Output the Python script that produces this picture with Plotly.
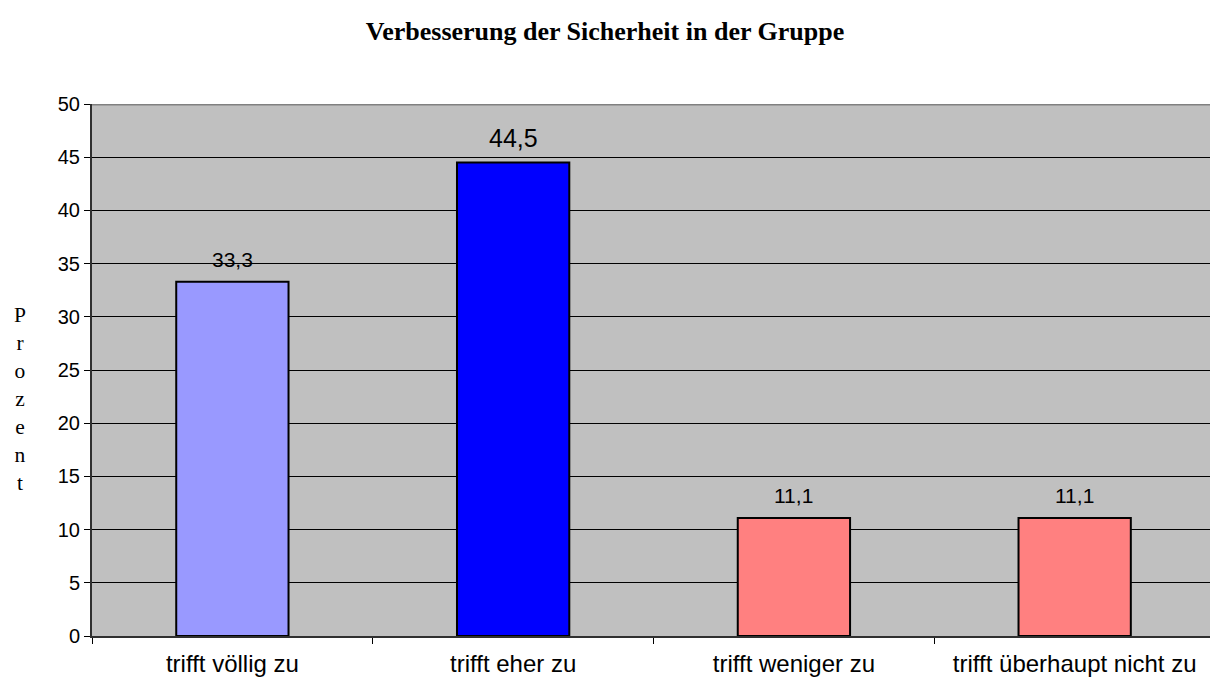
import plotly.graph_objects as go

categories = ["trifft völlig zu", "trifft eher zu", "trifft weniger zu", "trifft überhaupt nicht zu"]
values = [33.3, 44.5, 11.1, 11.1]
value_labels = ["33,3", "44,5", "11,1", "11,1"]
bar_colors = ["#9999FF", "#0000FF", "#FF8080", "#FF8080"]
label_sizes = [21, 25, 21, 21]
y_ticks = [0, 5, 10, 15, 20, 25, 30, 35, 40, 45, 50]

fig = go.Figure()
fig.add_trace(go.Bar(
    x=categories,
    y=values,
    width=0.4,
    marker=dict(color=bar_colors, line=dict(color="#000000", width=2)),
    hoverinfo="skip",
))

for cat, val, lab, size in zip(categories, values, value_labels, label_sizes):
    fig.add_annotation(
        x=cat, y=val, text=lab, showarrow=False,
        yanchor="bottom", yshift=9,
        font=dict(family="Liberation Sans, Arial, sans-serif", size=size, color="#000000"),
    )

# vertical stacked axis title
fig.add_annotation(
    xref="paper", yref="paper", x=-0.0644, y=0.446, xanchor="center", yanchor="middle",
    text="<br>".join(list("Prozent")), showarrow=False,
    font=dict(family="Liberation Serif, Times New Roman, serif", size=21.5, color="#000000"),
)

# top border of the plot area
fig.add_shape(type="line", xref="paper", yref="y", x0=0, x1=1, y0=50, y1=50,
              line=dict(color="#808080", width=3))

fig.update_layout(
    width=1210, height=682,
    margin=dict(l=92, r=0, t=104, b=46),
    paper_bgcolor="#FFFFFF",
    plot_bgcolor="#C0C0C0",
    showlegend=False,
    title=dict(
        text="<b>Verbesserung der Sicherheit in der Gruppe</b>",
        x=0.5, xanchor="center", y=0.955, yanchor="middle",
        font=dict(family="Liberation Serif, Times New Roman, serif", size=26, color="#000000"),
    ),
    xaxis=dict(
        type="category",
        range=[-0.5, 3.482],
        tickson="boundaries",
        ticks="outside", ticklen=6, tickcolor="#000000", tickwidth=1,
        ticklabelstandoff=5,
        showline=True, linecolor="#303030", linewidth=2,
        showgrid=False,
        tickfont=dict(family="Liberation Sans, Arial, sans-serif", size=24, color="#000000"),
    ),
    yaxis=dict(
        range=[0, 50],
        tickvals=y_ticks,
        ticks="outside", ticklen=6, tickcolor="#000000", tickwidth=1,
        showline=True, linecolor="#303030", linewidth=2,
        showgrid=True, gridcolor="#000000", gridwidth=1,
        zeroline=False,
        tickfont=dict(family="Liberation Sans, Arial, sans-serif", size=20, color="#000000"),
    ),
)

fig.write_html("out.html")
